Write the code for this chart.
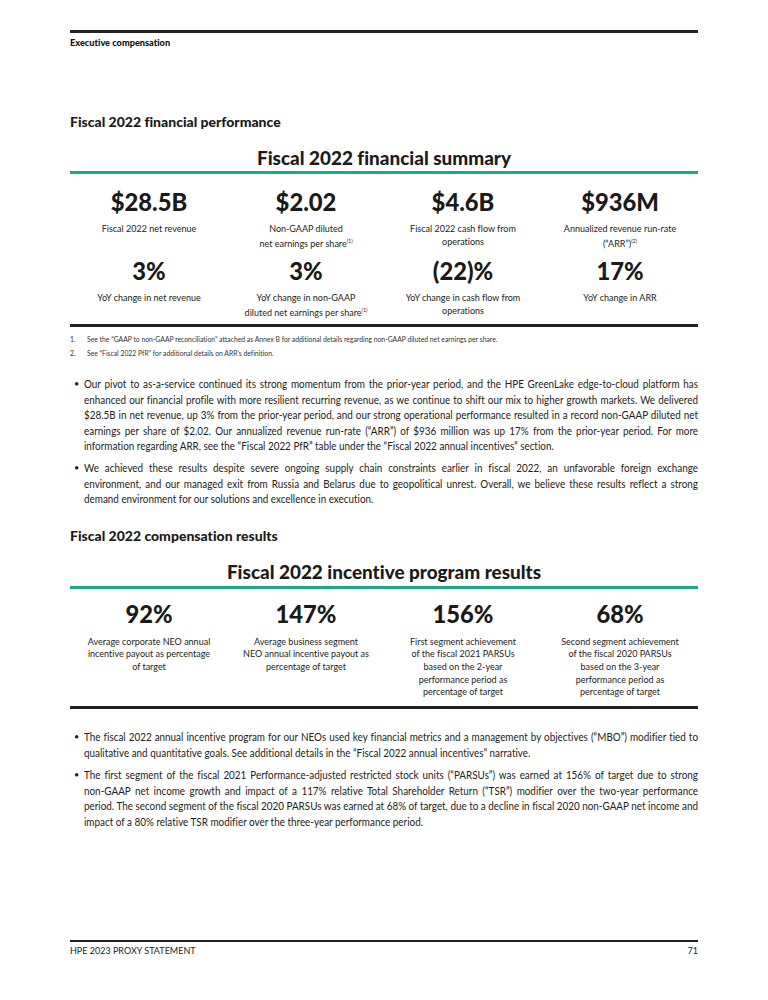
<!DOCTYPE html>
<html><head><meta charset="utf-8">
<script src="https://cdn.jsdelivr.net/npm/chart.js@4.4.0/dist/chart.umd.min.js"></script>
<style>
html,body{margin:0;padding:0;background:#fff;}
body{width:768px;height:1000px;position:relative;overflow:hidden;font-family:Lato,"Open Sans",sans-serif;color:#1b1b1b;font-variant-ligatures:none;font-feature-settings:"liga" 0;}
.a{position:absolute;white-space:nowrap;}
.rule{position:absolute;left:70px;width:628px;}
.num{font-weight:900;font-size:25px;line-height:30px;text-align:center;color:#1a1a1a;}
.desc{font-size:9.4px;text-align:center;color:#222;}
.sup{font-size:5.5px;vertical-align:4px;}
.h2{font-weight:900;font-size:18.9px;line-height:24px;text-align:center;width:768px;left:0;}
.h3{font-weight:900;font-size:14px;line-height:16px;left:70px;}
.line{position:absolute;left:84px;font-size:10.6px;line-height:14px;white-space:nowrap;transform-origin:0 50%;color:#222;}
.bul{position:absolute;left:74px;font-size:9px;line-height:14px;color:#222;}
.fn{font-size:6.8px;line-height:8px;color:#333;}
</style></head>
<body>
<div id="page"></div>
<script>
// ---- data ----
const pageHeader = 'Executive compensation';
const section1Title = 'Fiscal 2022 financial performance';
const summaryTitle = 'Fiscal 2022 financial summary';
const summaryValues = ['$28.5B', '$2.02', '$4.6B', '$936M'];
const summaryLabels = [['Fiscal 2022 net revenue'], ['Non-GAAP diluted', 'net earnings per share'], ['Fiscal 2022 cash flow from', 'operations'], ['Annualized revenue run-rate', '(“ARR”)']];
const summaryNotes = [null, '(1)', null, '(2)'];
const changeValues = ['3%', '3%', '(22)%', '17%'];
const changeLabels = [['YoY change in net revenue'], ['YoY change in non-GAAP', 'diluted net earnings per share'], ['YoY change in cash flow from', 'operations'], ['YoY change in ARR']];
const changeNotes = [null, '(1)', null, null];
const footnotes = ['See the “GAAP to non-GAAP reconciliation” attached as Annex B for additional details regarding non-GAAP diluted net earnings per share.', 'See “Fiscal 2022 PfR” for additional details on ARR’s definition.'];
const bulletsA = [
 ['Our pivot to as-a-service continued its strong momentum from the prior-year period, and the HPE GreenLake edge-to-cloud platform has',
  'enhanced our financial profile with more resilient recurring revenue, as we continue to shift our mix to higher growth markets. We delivered',
  '$28.5B in net revenue, up 3% from the prior-year period, and our strong operational performance resulted in a record non-GAAP diluted net',
  'earnings per share of $2.02. Our annualized revenue run-rate (“ARR”) of $936 million was up 17% from the prior-year period. For more',
  'information regarding ARR, see the “Fiscal 2022 PfR” table under the “Fiscal 2022 annual incentives” section.'],
 ['We achieved these results despite severe ongoing supply chain constraints earlier in fiscal 2022, an unfavorable foreign exchange',
  'environment, and our managed exit from Russia and Belarus due to geopolitical unrest. Overall, we believe these results reflect a strong',
  'demand environment for our solutions and excellence in execution.']];
const section2Title = 'Fiscal 2022 compensation results';
const incentiveTitle = 'Fiscal 2022 incentive program results';
const incentiveValues = ['92%', '147%', '156%', '68%'];
const incentiveLabels = [['Average corporate NEO annual', 'incentive payout as percentage', 'of target'], ['Average business segment', 'NEO annual incentive payout as', 'percentage of target'], ['First segment achievement', 'of the fiscal 2021 PARSUs', 'based on the 2-year', 'performance period as', 'percentage of target'], ['Second segment achievement', 'of the fiscal 2020 PARSUs', 'based on the 3-year', 'performance period as', 'percentage of target']];
const bulletsB = [
 ['The fiscal 2022 annual incentive program for our NEOs used key financial metrics and a management by objectives (“MBO”) modifier tied to',
  'qualitative and quantitative goals. See additional details in the “Fiscal 2022 annual incentives” narrative.'],
 ['The first segment of the fiscal 2021 Performance-adjusted restricted stock units (“PARSUs”) was earned at 156% of target due to strong',
  'non-GAAP net income growth and impact of a 117% relative Total Shareholder Return (“TSR”) modifier over the two-year performance',
  'period. The second segment of the fiscal 2020 PARSUs was earned at 68% of target, due to a decline in fiscal 2020 non-GAAP net income and',
  'impact of a 80% relative TSR modifier over the three-year performance period.']];
const footerLeft = 'HPE 2023 PROXY STATEMENT';
const footerRight = '71';

// ---- layout helpers ----
const page = document.getElementById('page');
function el(cls, html, css) {
  const d = document.createElement('div');
  d.className = cls; d.innerHTML = html;
  Object.assign(d.style, css || {});
  page.appendChild(d); return d;
}
function rule(y, h, color) { el('rule', '', {top: y + 'px', height: h + 'px', background: color}); }
const colX = i => 70 + 157 * i; // column left
function centered(cls, html, cx, cy, lh, sx) {
  const d = el('a ' + cls, html, {left: (cx - 100) + 'px', width: '200px', top: (cy - lh / 2) + 'px', lineHeight: lh + 'px', textAlign: 'center'});
  if (sx) d.style.transform = 'scaleX(' + sx + ')';
  return d;
}
function kpiRow(values, cy) {
  values.forEach((v, i) => centered('num', v, colX(i) + 78.5, cy, 30, 0.95));
}
function labelRow(labels, notes, cy, lh) {
  labels.forEach((lines, i) => lines.forEach((t, j) => {
    const sup = (notes && notes[i] && j === lines.length - 1) ? '<span class="sup">' + notes[i] + '</span>' : '';
    centered('desc', t + sup, colX(i) + 78.5, cy + j * lh, lh, 0.96);
  }));
}
const textWidth = 614;
function paragraphs(paras, starts, lh) {
  const all = [];
  paras.forEach((lines, p) => {
    el('bul', '•', {top: (starts[p] - 7) + 'px'});
    lines.forEach((t, j) => {
      const d = el('line', t, {top: (starts[p] + j * lh - 7) + 'px'});
      all.push({d, last: j === lines.length - 1});
    });
  });
  return all;
}

// ---- header ----
rule(30, 3, '#222');
el('a', pageHeader, {left: '70px', top: '37px', fontWeight: 900, fontSize: '9.2px', lineHeight: '12px', color: '#111'});
el('a h3', section1Title, {top: '114px'});
el('a h2', summaryTitle, {top: '146px'});
rule(171, 3, '#1ba98a');
kpiRow(summaryValues, 201);
labelRow(summaryLabels, summaryNotes, 228, 13);
kpiRow(changeValues, 270);
labelRow(changeLabels, changeNotes, 297, 13);
rule(324, 3, '#222');
footnotes.forEach((t, i) => {
  el('a fn', (i + 1) + '.', {left: '70px', top: (335 + i * 14) + 'px'});
  el('a fn', t, {left: '87px', top: (335 + i * 14) + 'px'});
});
const linesA = paragraphs(bulletsA, [384, 468], 15.6);
el('a h3', section2Title, {top: '528px'});
el('a h2', incentiveTitle, {top: '560px'});
rule(586, 3, '#1ba98a');
kpiRow(incentiveValues, 613);
labelRow(incentiveLabels, null, 642, 12.6);
rule(706, 3, '#222');
const linesB = paragraphs(bulletsB, [737, 775], 15.6);
rule(940, 1.5, '#222');
el('a', footerLeft, {left: '70px', top: '945px', fontSize: '9px', lineHeight: '12px', color: '#222'});
el('a', footerRight, {left: '650px', width: '48px', textAlign: 'right', top: '945px', fontSize: '9px', lineHeight: '12px', color: '#222'});

// justify body lines: condense font to fit the longest line, then spread words
const allLines = linesA.concat(linesB);
let maxW = 0;
allLines.forEach(o => { maxW = Math.max(maxW, o.d.getBoundingClientRect().width); });
const sx = Math.min(1, textWidth / maxW);
allLines.forEach(o => {
  o.d.style.transform = 'scaleX(' + sx + ')';
  if (!o.last) {
    const natural = o.d.getBoundingClientRect().width / sx;
    const spaces = (o.d.textContent.match(/ /g) || []).length;
    const extra = (textWidth / sx - natural) / Math.max(1, spaces);
    o.d.style.wordSpacing = extra + 'px';
  }
});
</script>
</body></html>
